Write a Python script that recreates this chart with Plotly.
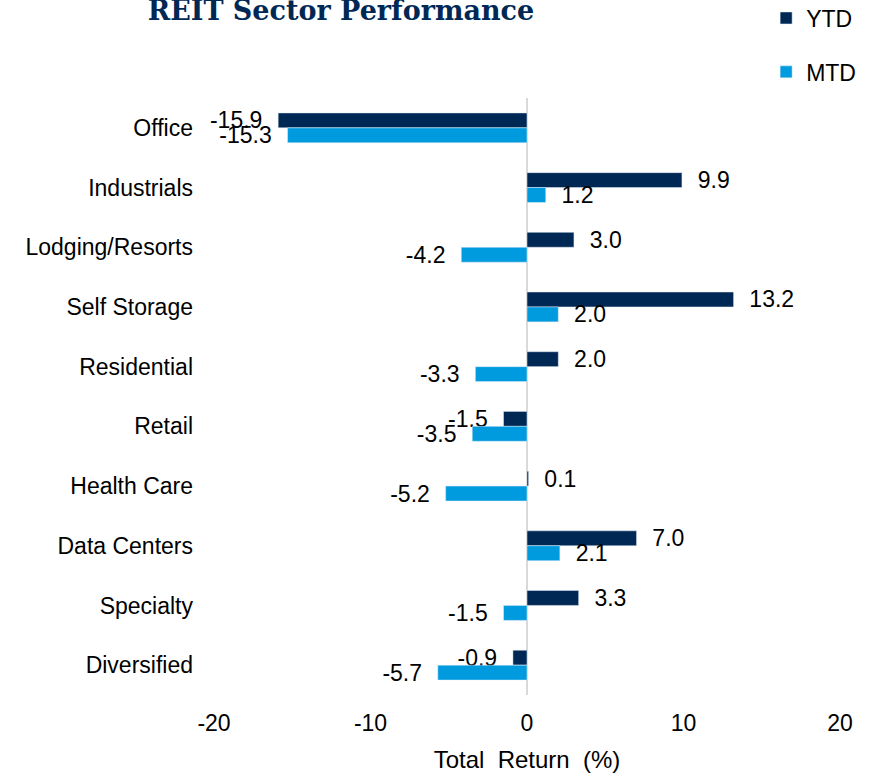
import plotly.graph_objects as go

sectors = ["Office", "Industrials", "Lodging/Resorts", "Self Storage", "Residential",
           "Retail", "Health Care", "Data Centers", "Specialty", "Diversified"]
ytd = [-15.9, 9.9, 3.0, 13.2, 2.0, -1.5, 0.1, 7.0, 3.3, -0.9]
mtd = [-15.3, 1.2, -4.2, 2.0, -3.3, -3.5, -5.2, 2.1, -1.5, -5.7]
x_ticks = [-20, -10, 0, 10, 20]

NAVY = "#002855"
BLUE = "#009ADE"
FONT = "Arial, Liberation Sans, sans-serif"
FS = 23


def label_templates(values):
    # pad the value labels away from the bar end on the side they sit
    return ["  %{x:.1f}" if v >= 0 else "%{x:.1f}  " for v in values]


fig = go.Figure()
fig.add_trace(go.Bar(
    y=sectors, x=ytd, name="YTD", orientation="h", marker_color=NAVY,
    texttemplate=label_templates(ytd), textposition="outside", cliponaxis=False,
    textfont=dict(size=FS, color="#000000", family=FONT), legendgroup="a",
))
fig.add_trace(go.Bar(
    y=sectors, x=mtd, name="MTD", orientation="h", marker_color=BLUE,
    texttemplate=label_templates(mtd), textposition="outside", cliponaxis=False,
    textfont=dict(size=FS, color="#000000", family=FONT), legendgroup="b",
))

fig.update_layout(
    width=873, height=776,
    margin=dict(l=214, r=33, t=98, b=81, autoexpand=False),
    paper_bgcolor="white", plot_bgcolor="white",
    barmode="group", bargap=0.5, bargroupgap=0,
    font=dict(family=FONT, size=FS, color="#000000"),
    title=dict(
        text="<b>REIT Sector Performance</b>",
        font=dict(family="DejaVu Serif, serif", size=27, color=NAVY),
        xref="container", x=341 / 873, xanchor="center",
        yref="container", y=1 - 11 / 776, yanchor="middle",
    ),
    legend=dict(
        x=0.882, xanchor="left", y=1.170, yanchor="top",
        traceorder="grouped", tracegroupgap=21,
        font=dict(size=FS, family=FONT, color="#000000"),
        bgcolor="rgba(0,0,0,0)",
    ),
    showlegend=True,
)
fig.update_traces(constraintext="none")

fig.update_xaxes(
    range=[-20, 20], tickvals=x_ticks, ticktext=[str(v) for v in x_ticks],
    showgrid=False, showline=False, zeroline=True, zerolinecolor="#d9d9d9", zerolinewidth=2,
    tickfont=dict(size=FS, family=FONT, color="#000000"), ticklabelstandoff=12,
    title=dict(text="Total\u00a0 Return\u00a0 (%)", font=dict(size=24, family=FONT, color="#000000"),
               standoff=16),
)
fig.update_yaxes(
    autorange="reversed", showgrid=False, showline=False, zeroline=False,
    tickfont=dict(size=FS, family=FONT, color="#000000"), ticklabelstandoff=20,
)

fig.write_html("out.html")
